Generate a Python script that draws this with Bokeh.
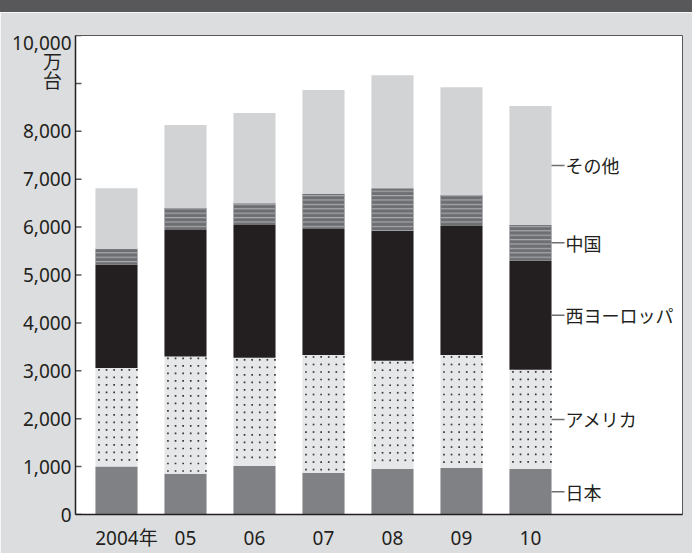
from bokeh.plotting import figure
from bokeh.models import FixedTicker, Div
from bokeh.layouts import column
from bokeh.core.properties import value
from bokeh.embed import file_html
from bokeh.resources import INLINE

# Sales by region, 10,000 units
years = ["2004年", "05", "06", "07", "08", "09", "10"]
regions = ["日本", "アメリカ", "西ヨーロッパ", "中国", "その他"]
japan = [1000, 850, 1010, 870, 950, 970, 950]
america = [2060, 2450, 2260, 2460, 2260, 2360, 2070]
west_europe = [2160, 2640, 2775, 2630, 2710, 2695, 2280]
china = [330, 460, 455, 730, 890, 645, 745]
other = [1260, 1730, 1880, 2170, 2360, 2250, 2485]
y_ticks = [0, 1000, 2000, 3000, 4000, 5000, 6000, 7000, 8000, 9000, 10000]

CJK = "Noto Sans CJK JP"
NUM = "Noto Sans, Noto Sans CJK JP"
DARK = "#231f20"
BAND = "#58585a"
BG = "#dcdddf"

series = [japan, america, west_europe, china, other]
styles = [
    dict(fill_color="#808184"),
    dict(fill_color="#e6e7e8"),
    dict(fill_color=DARK),
    dict(fill_color="#6d6e71", hatch_pattern="horizontal_line",
         hatch_color="#a7a9ac", hatch_scale=4.4, hatch_weight=1.2),
    dict(fill_color="#d1d3d4"),
]

xs = list(range(len(years)))
bar_w = 0.61
Y_MAX = 10000
FRAME_H = 485               # frame height in pixels
px_per_unit = 69.0          # horizontal pixels per category step
val_per_px = Y_MAX / FRAME_H

p = figure(width=692, height=541, x_range=(-0.594, 8.203), y_range=(0, Y_MAX),
           output_backend="svg", toolbar_location=None,
           min_border_left=75, min_border_right=10,
           min_border_top=23, min_border_bottom=33,
           border_fill_color=BG, background_fill_color="white",
           margin=(0, 0, 0, 0))

bottoms = [0] * len(xs)
seg_bounds = []
mids = []
for vals, st in zip(series, styles):
    tops = [b + v for b, v in zip(bottoms, vals)]
    p.vbar(x=xs, bottom=bottoms, top=tops, width=bar_w, line_color=None, **st)
    seg_bounds.append((bottoms, tops))
    mids.append((bottoms[-1] + tops[-1]) / 2)
    bottoms = tops

# dot screen on the アメリカ segments: a fixed pixel grid hung from each segment top
dot_x, dot_y = [], []
step_px = 7.6
for i, (lo, hi) in enumerate(zip(*seg_bounds[1])):
    left = xs[i] - bar_w / 2
    y = hi - 2 * val_per_px
    while y > lo + 1.5 * val_per_px:
        for k in range(6):
            dot_x.append(left + (3.5 + k * step_px) / px_per_unit)
            dot_y.append(y)
        y -= step_px * val_per_px
p.scatter(x=dot_x, y=dot_y, marker="square", size=1.7,
          fill_color="#3a3839", line_color=None)

# region names beside the last bar, with short leader lines
last = xs[-1]
edge = last + bar_w / 2
p.segment(x0=[edge] * len(mids), x1=[edge + 13 / px_per_unit] * len(mids),
          y0=mids, y1=mids, line_color="#6d6e71", line_width=1.5)
p.text(x=[edge + 14 / px_per_unit] * len(mids), y=mids, text=regions,
       text_font=value(CJK), text_font_size="18px", text_color=DARK,
       text_align="left", text_baseline="middle")

# inward tick marks on the value axis
x0 = p.x_range.start
p.segment(x0=[x0] * len(y_ticks), x1=[x0 + 6 / px_per_unit] * len(y_ticks),
          y0=y_ticks, y1=y_ticks, line_color=BAND, line_width=1.5)

p.xgrid.visible = False
p.ygrid.visible = False
p.outline_line_color = BAND
p.outline_line_width = 1

# y axis: numbers up to 8,000, the unit 万/台 stacked near 9,000, 10,000 set just below the top
top_label_pos = Y_MAX - 8 * val_per_px
wan_pos = y_ticks[-2] + 22 * val_per_px
dai_pos = y_ticks[-2] + 2 * val_per_px
label_pos = y_ticks[:-2] + [dai_pos, wan_pos, top_label_pos]
overrides = {t: f"{t:,}" for t in y_ticks[:-2]}
overrides[wan_pos] = "万\u2002"
overrides[dai_pos] = "台\u2002"
overrides[top_label_pos] = f"{Y_MAX:,}"

ya = p.yaxis[0]
ya.ticker = FixedTicker(ticks=label_pos)
ya.major_label_overrides = overrides
ya.major_tick_in = 0
ya.major_tick_out = 0
ya.minor_tick_line_color = None
ya.axis_line_color = DARK
ya.axis_line_width = 1.5
ya.major_label_standoff = 4
ya.major_label_text_font = NUM
ya.major_label_text_font_size = "19px"
ya.major_label_text_color = DARK

# x axis
xa = p.xaxis[0]
x_tick_pos = [0.145] + xs[1:]
xa.ticker = FixedTicker(ticks=x_tick_pos)
xa.major_label_overrides = {t: y for t, y in zip(x_tick_pos, years)}
xa.major_tick_in = 0
xa.major_tick_out = 0
xa.minor_tick_line_color = None
xa.axis_line_color = DARK
xa.axis_line_width = 1.5
xa.major_label_standoff = 10
xa.major_label_text_font = NUM
xa.major_label_text_font_size = "19px"
xa.major_label_text_color = DARK

band = Div(width=692, height=12, margin=(0, 0, 0, 0),
           styles={"background-color": BAND, "margin": "0", "padding": "0"})
layout = column(band, p, spacing=0, margin=(0, 0, 0, 0))

open("out.html", "w").write(file_html(layout, INLINE))
